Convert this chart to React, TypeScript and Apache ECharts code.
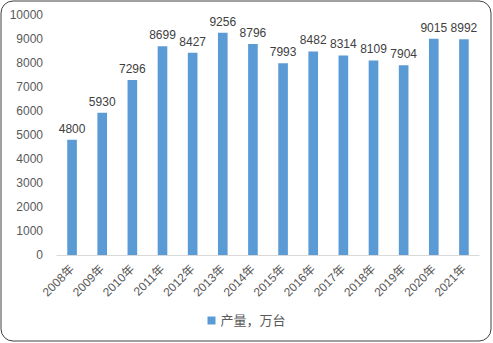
import React, { useEffect, useRef } from "react";
import * as echarts from "echarts";

const years = ["2008年", "2009年", "2010年", "2011年", "2012年", "2013年", "2014年", "2015年", "2016年", "2017年", "2018年", "2019年", "2020年", "2021年"];
const output = [4800, 5930, 7296, 8699, 8427, 9256, 8796, 7993, 8482, 8314, 8109, 7904, 9015, 8992];
const seriesName = "产量，万台";

const FONT = "'Liberation Sans', 'Noto Sans CJK SC', sans-serif";

export default function App() {
  const ref = useRef<HTMLDivElement>(null);
  useEffect(() => {
    if (!ref.current) return;
    const chart = echarts.init(ref.current, null, { renderer: "svg" });
    chart.setOption({
      animation: false,
      backgroundColor: "#ffffff",
      textStyle: { fontFamily: FONT },
      graphic: [
        {
          type: "rect",
          shape: { x: 1, y: 1, width: 490, height: 340, r: 12 },
          style: { fill: "none", stroke: "#404040", lineWidth: 1 },
          silent: true,
          z: 100,
        },
      ],
      grid: { left: 57, right: 14, top: 15, bottom: 88, containLabel: false },
      legend: {
        bottom: 11,
        left: "center",
        itemWidth: 8,
        itemHeight: 8,
        icon: "rect",
        textStyle: { fontSize: 13, color: "#595959", fontFamily: FONT },
        data: [seriesName],
      },
      xAxis: {
        type: "category",
        data: years,
        axisLine: { lineStyle: { color: "#d9d9d9", width: 1 } },
        axisTick: { show: false },
        axisLabel: { rotate: 45, fontSize: 12, color: "#595959", margin: 12, interval: 0, fontFamily: FONT },
      },
      yAxis: {
        type: "value",
        min: 0,
        max: 10000,
        interval: 1000,
        axisLine: { show: false },
        axisTick: { show: false },
        splitLine: { show: false },
        axisLabel: { fontSize: 12, color: "#595959", margin: 14, fontFamily: FONT, formatter: (v: number) => String(v) },
      },
      series: [
        {
          name: seriesName,
          type: "bar",
          data: output,
          barWidth: "32%",
          itemStyle: { color: "#5B9BD5" },
          label: { show: true, position: "top", distance: 5, fontSize: 12, color: "#404040", fontFamily: FONT },
        },
      ],
    });
    return () => chart.dispose();
  }, []);
  return <div ref={ref} style={{ position: "fixed", left: 0, top: 0, width: 493, height: 343 }} />;
}
